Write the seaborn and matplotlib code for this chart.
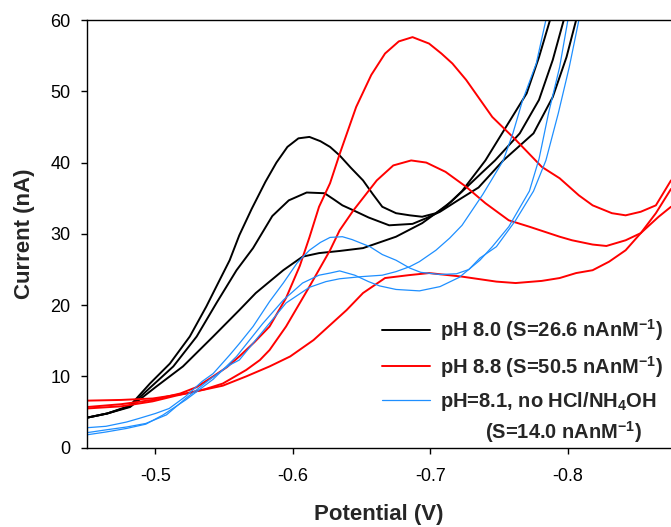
# Square-wave voltammograms at different pH
import pandas as pd
import numpy as np
import matplotlib
matplotlib.use("Agg")
import matplotlib.pyplot as plt
import seaborn as sns

# ---- data (potential in V, current in nA) ----
# pH 8.0 (black), three runs
v_ph80_a = [-0.450, -0.465, -0.4815, -0.496, -0.5105, -0.525, -0.537, -0.5456, -0.554, -0.561, -0.570,
            -0.580, -0.588, -0.596, -0.604, -0.612, -0.620, -0.627, -0.634, -0.642, -0.651, -0.658,
            -0.665, -0.675, -0.685, -0.694, -0.704, -0.715, -0.725, -0.737, -0.747, -0.765, -0.779,
            -0.789, -0.797, -0.800]
i_ph80_a = [4.2, 4.8, 5.9, 9.0, 11.8, 15.6, 19.8, 23.1, 26.3, 29.8, 33.5,
            37.3, 40.0, 42.2, 43.4, 43.6, 43.0, 42.2, 41.0, 39.3, 37.5, 35.6,
            33.8, 32.9, 32.6, 32.4, 32.9, 34.5, 36.3, 38.5, 40.3, 44.1, 48.8,
            54.4, 60.0, 62.5]
v_ph80_b = [-0.450, -0.465, -0.4815, -0.496, -0.513, -0.530, -0.5444, -0.559, -0.571, -0.585, -0.597,
            -0.610, -0.623, -0.630, -0.636, -0.644, -0.655, -0.670, -0.687, -0.697, -0.707, -0.720,
            -0.735, -0.753, -0.775, -0.789, -0.799, -0.806, -0.809]
i_ph80_b = [4.2, 4.8, 5.8, 8.4, 11.4, 15.6, 20.3, 24.9, 28.0, 32.5, 34.7,
            35.8, 35.7, 34.8, 34.0, 33.3, 32.3, 31.2, 31.4, 32.2, 33.1, 34.7,
            36.5, 40.3, 44.1, 49.2, 54.8, 60.0, 62.5]
v_ph80_c = [-0.450, -0.465, -0.4815, -0.5008, -0.520, -0.542, -0.561, -0.573, -0.583, -0.593, -0.607,
            -0.619, -0.634, -0.651, -0.675, -0.694, -0.704, -0.711, -0.723, -0.740, -0.755, -0.770,
            -0.779, -0.787, -0.790]
i_ph80_c = [4.2, 4.8, 5.7, 8.6, 11.4, 15.6, 19.3, 21.7, 23.3, 24.9, 26.8,
            27.3, 27.6, 28.0, 29.6, 31.5, 32.9, 33.8, 36.0, 40.3, 45.0, 49.7,
            54.8, 60.0, 62.5]

# pH 8.8 (red), three runs
v_ph88_a = [-0.450, -0.475, -0.498, -0.518, -0.530, -0.542, -0.552, -0.561, -0.572, -0.583, -0.595,
            -0.605, -0.612, -0.619, -0.627, -0.634, -0.646, -0.657, -0.667, -0.677, -0.687, -0.699,
            -0.708, -0.716, -0.726, -0.745, -0.762, -0.781, -0.794, -0.808, -0.818, -0.832, -0.842,
            -0.853, -0.864, -0.875]
i_ph88_a = [5.7, 6.1, 6.7, 7.6, 8.5, 10.0, 11.3, 12.8, 14.8, 17.0, 21.0,
            25.5, 29.5, 33.8, 37.1, 41.2, 47.8, 52.3, 55.3, 57.0, 57.6, 56.7,
            55.3, 53.9, 51.6, 46.4, 43.2, 39.4, 37.8, 35.4, 34.0, 32.9, 32.6,
            33.1, 34.0, 37.5]
v_ph88_b = [-0.450, -0.475, -0.498, -0.522, -0.536, -0.549, -0.566, -0.576, -0.583, -0.595, -0.612,
            -0.627, -0.634, -0.644, -0.661, -0.673, -0.686, -0.697, -0.711, -0.726, -0.740, -0.757,
            -0.772, -0.794, -0.803, -0.818, -0.828, -0.842, -0.853, -0.866, -0.875]
i_ph88_b = [6.6, 6.7, 6.9, 7.6, 8.2, 9.0, 10.9, 12.3, 13.7, 17.0, 22.6,
            27.7, 30.5, 33.3, 37.5, 39.6, 40.3, 40.0, 38.7, 36.6, 34.3, 31.9,
            31.0, 29.6, 29.1, 28.5, 28.3, 29.1, 30.1, 32.4, 33.8]
v_ph88_c = [-0.450, -0.475, -0.498, -0.515, -0.532, -0.549, -0.566, -0.583, -0.598, -0.615, -0.627,
            -0.639, -0.651, -0.667, -0.684, -0.699, -0.723, -0.748, -0.762, -0.781, -0.794, -0.806,
            -0.818, -0.830, -0.842, -0.853, -0.864, -0.875]
i_ph88_c = [5.5, 5.8, 6.5, 7.3, 8.0, 8.7, 10.0, 11.4, 12.8, 15.1, 17.2,
            19.3, 21.7, 23.8, 24.2, 24.5, 24.0, 23.3, 23.1, 23.4, 23.8, 24.5,
            24.9, 26.1, 27.7, 30.1, 32.9, 36.3]

# pH 8.1 without HCl/NH4OH (blue), three runs
v_ph81_a = [-0.450, -0.464, -0.479, -0.488, -0.500, -0.510, -0.522, -0.534, -0.542, -0.554, -0.561,
            -0.571, -0.583, -0.593, -0.603, -0.612, -0.620, -0.627, -0.636, -0.643, -0.656, -0.665,
            -0.675, -0.685, -0.693, -0.707, -0.719, -0.728, -0.736, -0.748, -0.762, -0.775, -0.784,
            -0.793, -0.801, -0.808, -0.810]
i_ph81_a = [2.8, 3.0, 3.6, 4.1, 4.8, 5.5, 7.2, 9.3, 10.4, 13.0, 14.6,
            17.0, 20.5, 23.1, 25.9, 27.7, 28.8, 29.5, 29.6, 29.2, 28.2, 27.1,
            26.3, 25.2, 24.6, 24.3, 24.4, 25.0, 26.6, 28.2, 31.9, 36.0, 40.3,
            46.9, 53.4, 60.0, 62.0]
v_ph81_b = [-0.450, -0.464, -0.479, -0.493, -0.508, -0.522, -0.539, -0.554, -0.561, -0.581, -0.595,
            -0.612, -0.624, -0.634, -0.650, -0.665, -0.675, -0.685, -0.692, -0.704, -0.714, -0.723,
            -0.738, -0.753, -0.760, -0.767, -0.777, -0.784, -0.786]
i_ph81_b = [2.1, 2.5, 2.9, 3.4, 4.6, 6.9, 9.5, 11.6, 12.3, 17.0, 20.3,
            22.5, 23.3, 23.7, 24.0, 24.2, 24.7, 25.4, 26.1, 27.7, 29.4, 31.2,
            35.5, 40.3, 44.1, 48.7, 53.9, 60.0, 62.0]
v_ph81_c = [-0.450, -0.464, -0.479, -0.493, -0.5056, -0.522, -0.542, -0.559, -0.578, -0.593, -0.607,
            -0.619, -0.627, -0.634, -0.645, -0.655, -0.663, -0.675, -0.692, -0.707, -0.721, -0.736,
            -0.745, -0.757, -0.772, -0.779, -0.786, -0.794, -0.800, -0.802]
i_ph81_c = [1.8, 2.2, 2.7, 3.3, 4.6, 6.7, 9.6, 12.8, 17.4, 20.7, 23.1,
            24.2, 24.5, 24.8, 24.2, 23.3, 22.7, 22.2, 22.0, 22.6, 23.9, 26.3,
            28.2, 31.0, 36.0, 40.5, 47.0, 53.4, 60.0, 62.0]

labels = ["pH 8.0 (S=26.6 nAnM$^{-1}$)",
          "pH 8.8 (S=50.5 nAnM$^{-1}$)",
          "pH=8.1, no HCl/NH$_4$OH"]
colors = ["black", "#ff0000", "#1e8fff"]
widths = [1.4, 1.4, 0.9]

runs = [
    (0, v_ph80_a, i_ph80_a), (0, v_ph80_b, i_ph80_b), (0, v_ph80_c, i_ph80_c),
    (1, v_ph88_a, i_ph88_a), (1, v_ph88_b, i_ph88_b), (1, v_ph88_c, i_ph88_c),
    (2, v_ph81_a, i_ph81_a), (2, v_ph81_b, i_ph81_b), (2, v_ph81_c, i_ph81_c),
]

sns.set_style("ticks")
plt.rcParams['font.family'] = ['Liberation Sans', 'DejaVu Sans']
plt.rcParams['axes.unicode_minus'] = False
plt.rcParams['mathtext.fontset'] = 'custom'
plt.rcParams['mathtext.rm'] = 'Liberation Sans'
plt.rcParams['mathtext.bf'] = 'Liberation Sans:bold'
plt.rcParams['mathtext.default'] = 'bf'

fig = plt.figure(figsize=(6.71, 5.27), dpi=100)
ax = fig.add_axes([0.1292, 0.1505, 0.8708, 0.8115])

seen = set()
for k, v, i in runs:
    df = pd.DataFrame({"Potential": v, "Current": i})
    lab = labels[k] if k not in seen else None
    seen.add(k)
    sns.lineplot(data=df, x="Potential", y="Current", ax=ax, color=colors[k],
                 linewidth=widths[k], sort=False, estimator=None, label=lab, legend=False)

ax.set_xlim(-0.45, -0.875)
ax.set_ylim(0, 60)
ax.set_xticks([-0.5, -0.6, -0.7, -0.8])
ax.set_yticks([0, 10, 20, 30, 40, 50, 60])
ax.xaxis.set_major_formatter(matplotlib.ticker.FormatStrFormatter('%.1f'))

for s in ["left", "bottom", "top"]:
    ax.spines[s].set_linewidth(1.0)
    ax.spines[s].set_color("black")
ax.spines["right"].set_visible(False)
ax.tick_params(axis='both', direction='out', length=4.5, width=1.0, labelsize=13, colors='black')
ax.tick_params(axis='x', pad=10)
ax.tick_params(axis='y', pad=7)

ax.set_xlabel("Potential (V)", fontsize=16, fontweight='bold', labelpad=14)
ax.set_ylabel("Current (nA)", fontsize=16, fontweight='bold', labelpad=11)

leg = ax.legend(loc='upper left', bbox_to_anchor=(0.505, 0.305), frameon=False,
                fontsize=14.5, handlelength=2.4, handletextpad=0.5, labelspacing=0.52,
                borderpad=0, borderaxespad=0)
for t in leg.get_texts():
    t.set_fontweight('bold')
ax.text(0.6816, 0.037, "(S=14.0 nAnM$^{-1}$)", transform=ax.transAxes,
        fontsize=14.5, fontweight='bold', ha='left', va='center')

fig.savefig("out.png", dpi=100)
